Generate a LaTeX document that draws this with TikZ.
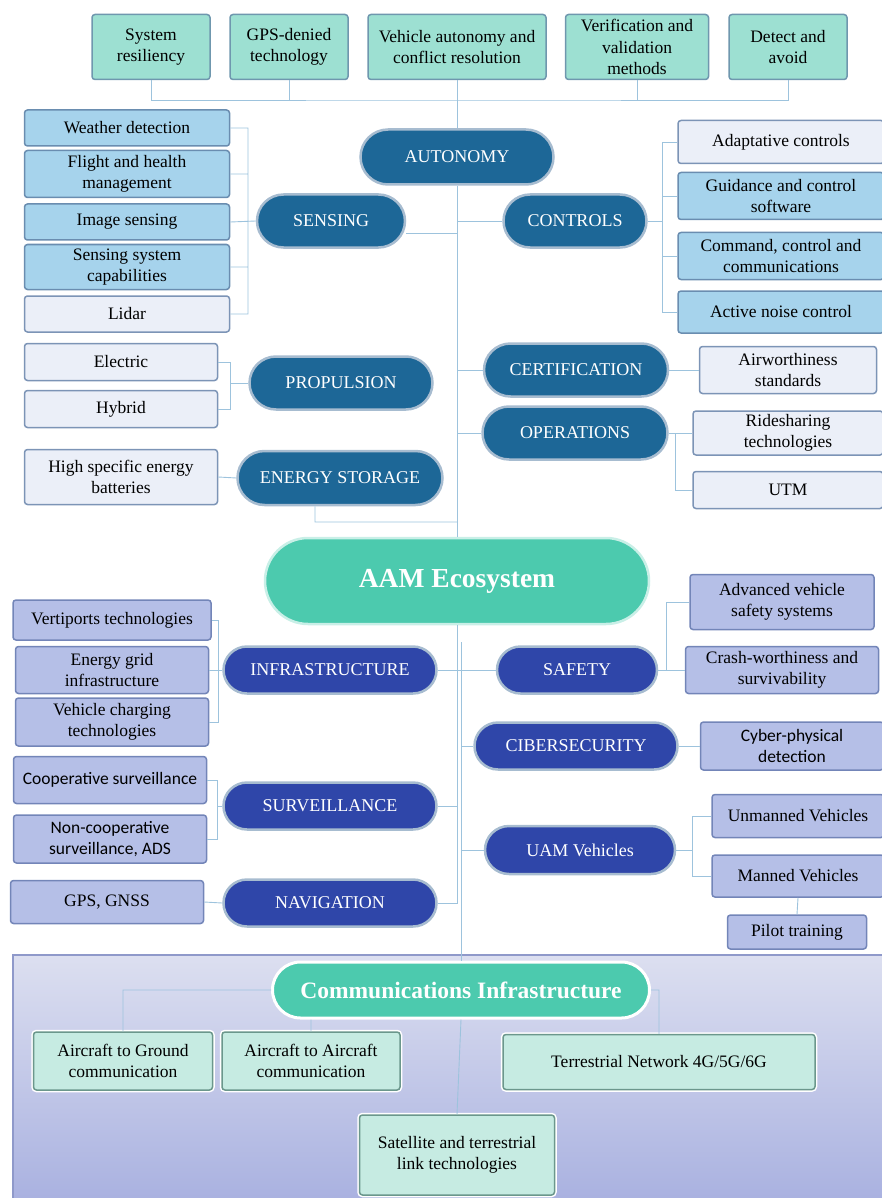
\documentclass[tikz,border=0pt]{standalone}
\usepackage{fontspec}
\setmainfont{Liberation Serif}
\newfontfamily\carlito{Carlito}
\usepackage{tikz}
\usepackage{xcolor}
\usetikzlibrary{shapes.misc, positioning, calc}
\definecolor{linkc}{HTML}{9DC3DD}
\definecolor{topc}{HTML}{9DE0D2}
\definecolor{topd}{HTML}{6F97AE}
\definecolor{sensc}{HTML}{A6D3EC}
\definecolor{sensd}{HTML}{6A8DB0}
\definecolor{palec}{HTML}{EBEFF8}
\definecolor{paled}{HTML}{7C94B6}
\definecolor{lavc}{HTML}{B5BFE7}
\definecolor{lavd}{HTML}{7385B8}
\definecolor{commc}{HTML}{C6EBE2}
\definecolor{commd}{HTML}{6B978C}
\definecolor{upc}{HTML}{1D6797}
\definecolor{lpc}{HTML}{2F46A9}
\definecolor{pillb}{HTML}{A7BCD0}
\definecolor{aamc}{HTML}{4CCAAE}
\definecolor{panelt}{HTML}{DCDFF0}
\definecolor{panelb}{HTML}{A9B1E0}
\definecolor{paneld}{HTML}{8F99CA}

\begin{document}
\begin{tikzpicture}[x=1pt,y=-1pt,
  link/.style={draw=linkc,line width=0.9},
  box/.style={rectangle,rounded corners=3,line width=1.5,align=center,inner sep=1,font=\rmfamily\fontsize{17.5}{21.5}\selectfont},
  topbox/.style={box,fill=topc,draw=topd},
  sensbox/.style={box,fill=sensc,draw=sensd},
  palebox/.style={box,fill=palec,draw=paled},
  lavbox/.style={box,fill=lavc,draw=lavd},
  commbox/.style={box,fill=commc,draw=commd,preaction={draw=white,line width=4.5}},
  pill/.style={rounded rectangle,line width=2.5,draw=pillb,text=white,inner sep=0,font=\rmfamily\fontsize{18}{21}\selectfont},
  upill/.style={pill,fill=upc},
  lpill/.style={pill,fill=lpc},
  sans/.style={font=\carlito\fontsize{17.5}{21.5}\selectfont}]
  \useasboundingbox (0,0) rectangle (881,1198);
  \shade[top color=panelt,bottom color=panelb] (13,955) rectangle (885,1202);
  \draw[paneld,line width=1.5] (13,1202) -- (13,955) -- (885,955);

  \node[topbox,minimum width=118,minimum height=65] (sr) at (151,47) {System\\resiliency};
  \node[topbox,minimum width=118,minimum height=65] (gd) at (289,47) {GPS-denied\\technology};
  \node[topbox,minimum width=178,minimum height=65] (va) at (457,47) {Vehicle autonomy and\\conflict resolution};
  \node[topbox,minimum width=143,minimum height=65] (vv) at (637,47) {Verification and\\validation\\methods};
  \node[topbox,minimum width=118,minimum height=65] (da) at (788,47) {Detect and\\avoid};

  \node[upill,minimum width=193,minimum height=55] (auto) at (457,157) {AUTONOMY};
  \node[upill,minimum width=148,minimum height=53] (sens) at (331,221) {SENSING};
  \node[upill,minimum width=143,minimum height=53] (ctrl) at (575,221) {CONTROLS};

  \node[sensbox,minimum width=205,minimum height=36] (wd) at (127,128) {Weather detection};
  \node[sensbox,minimum width=205,minimum height=47] (fh) at (127,174) {Flight and health\\management};
  \node[sensbox,minimum width=205,minimum height=36] (is) at (127,222) {Image sensing};
  \node[sensbox,minimum width=205,minimum height=45] (ss) at (127,267) {Sensing system\\capabilities};
  \node[palebox,minimum width=205,minimum height=36] (ld) at (127,314) {Lidar};

  \node[palebox,minimum width=206,minimum height=43] (ac) at (781,142) {Adaptative controls};
  \node[sensbox,minimum width=206,minimum height=47] (gc) at (781,196) {Guidance and control\\software};
  \node[sensbox,minimum width=206,minimum height=47] (cc) at (781,256) {Command, control and\\communications};
  \node[sensbox,minimum width=206,minimum height=42] (an) at (781,312) {Active noise control};

  \node[upill,minimum width=183,minimum height=53] (prop) at (341,383) {PROPULSION};
  \node[palebox,minimum width=193,minimum height=37] (el) at (121,362) {Electric};
  \node[palebox,minimum width=193,minimum height=37] (hy) at (121,409) {Hybrid};
  \node[upill,minimum width=205,minimum height=54] (es) at (340,478) {ENERGY STORAGE};
  \node[palebox,minimum width=193,minimum height=55] (hb) at (121,477) {High specific energy\\batteries};

  \node[upill,minimum width=184,minimum height=53] (cert) at (576,370) {CERTIFICATION};
  \node[palebox,minimum width=177,minimum height=47] (aw) at (788,370) {Airworthiness\\standards};
  \node[upill,minimum width=185,minimum height=53] (ops) at (575,433) {OPERATIONS};
  \node[palebox,minimum width=190,minimum height=44] (rs) at (788,433) {Ridesharing\\technologies};
  \node[palebox,minimum width=190,minimum height=37] (utm) at (788,490) {UTM};

  \node[pill,fill=aamc,draw=white!70!aamc,minimum width=384,minimum height=86,font=\bfseries\fontsize{27.5}{30}\selectfont] (aam) at (457,581) {AAM Ecosystem};

  \node[lpill,minimum width=213,minimum height=47] (infra) at (330,670) {INFRASTRUCTURE};
  \node[lavbox,minimum width=198,minimum height=40] (vt) at (112,620) {Vertiports technologies};
  \node[lavbox,minimum width=193,minimum height=47] (eg) at (112,670) {Energy grid\\infrastructure};
  \node[lavbox,minimum width=193,minimum height=48] (vc) at (112,722) {Vehicle charging\\technologies};
  \node[lpill,minimum width=213,minimum height=47] (surv) at (330,806) {SURVEILLANCE};
  \node[lavbox,sans,minimum width=193,minimum height=47] (cs) at (110,780) {Cooperative surveillance};
  \node[lavbox,sans,minimum width=193,minimum height=48] (nc) at (110,839) {Non-cooperative\\surveillance, ADS};
  \node[lpill,minimum width=213,minimum height=47] (nav) at (330,903) {NAVIGATION};
  \node[lavbox,minimum width=193,minimum height=43] (gps) at (107,902) {GPS, GNSS};

  \node[lpill,minimum width=160,minimum height=47] (safe) at (577,670) {SAFETY};
  \node[lavbox,minimum width=184,minimum height=55] (av) at (782,602) {Advanced vehicle\\safety systems};
  \node[lavbox,minimum width=193,minimum height=47] (cw) at (782,670) {Crash-worthiness and\\survivability};
  \node[lpill,minimum width=203,minimum height=47] (cyber) at (576,746) {CIBERSECURITY};
  \node[lavbox,sans,minimum width=183,minimum height=48] (cp) at (792,746) {Cyber-physical\\detection};
  \node[lpill,minimum width=190,minimum height=48] (uam) at (580,850) {UAM Vehicles};
  \node[lavbox,minimum width=172,minimum height=43] (uv) at (798,816) {Unmanned Vehicles};
  \node[lavbox,minimum width=172,minimum height=42] (mv) at (798,876) {Manned Vehicles};
  \node[lavbox,minimum width=139,minimum height=34] (pt) at (797,932) {Pilot training};

  \node[pill,fill=aamc,draw=white,line width=3,minimum width=377,minimum height=56,font=\bfseries\fontsize{23.5}{26}\selectfont] (ci) at (461,990) {Communications Infrastructure};
  \node[commbox,minimum width=179,minimum height=58] (ag) at (123,1061) {Aircraft to Ground\\communication};
  \node[commbox,minimum width=178,minimum height=58] (aa) at (311,1061) {Aircraft to Aircraft\\communication};
  \node[commbox,minimum width=312,minimum height=55] (tn) at (659,1062) {Terrestrial Network 4G/5G/6G};
  \node[commbox,minimum width=195,minimum height=80] (sl) at (457,1155) {Satellite and terrestrial\\link technologies};

  \coordinate (tb) at (457,100);
  \coordinate (sb) at (248,222);
  \coordinate (cb) at (662,221);
  \coordinate (pb) at (230,383);
  \coordinate (ej) at (457,522);
  \coordinate (ob) at (675,433);
  \coordinate (ib) at (218,670);
  \coordinate (svb) at (217,806);
  \coordinate (rtop) at (461,642);
  \coordinate (sfb) at (666,670);
  \coordinate (ub) at (692,850);

  \draw[link] (sr.south) |- (tb) -| (da.south) (gd.south) -- (gd.south |- tb) (vv.south) -- (vv.south |- tb);
  \draw[link] (va.south) -- (auto.north) (auto.south) -- (aam.north);
  \draw[link] ([yshift=-12pt]sens.east) -- ([yshift=-12pt]sens.east -| tb) (ctrl.west) -- (ctrl.west -| tb);
  \draw[link] (wd.east) -| (sb) (ld.east) -| (sb) (fh.east) -- (fh.east -| sb) (ss.east) -- (ss.east -| sb) (is.east) -- (sens.west);
  \draw[link] (ac.west) -| (cb) (an.west) -| (cb) (gc.west) -- (gc.west -| cb) (cc.west) -- (cc.west -| cb) (cb) -- (ctrl.east);
  \draw[link] (el.east) -| (pb) (hy.east) -| (pb) (pb) -- (prop.west);
  \draw[link] (hb.east) -- (es.west) ([xshift=-25pt]es.south) |- (ej);
  \draw[link] (cert.west) -- (cert.west -| tb) (cert.east) -- (aw.west);
  \draw[link] (ops.west) -- (ops.west -| tb) (ops.east) -- (rs.west) (ob) |- (utm.west);

  \draw[link] (aam.south) |- (nav.east) (surv.east) -- (surv.east -| aam.south) (infra.east) -- (safe.west);
  \draw[link] (vt.east) -| (ib) (vc.east) -| (ib) (eg.east) -- (infra.west);
  \draw[link] (cs.east) -| (svb) (nc.east) -| (svb) (svb) -- (surv.west);
  \draw[link] (gps.east) -- (nav.west);
  \draw[link] (rtop) -- (ci.north) (cyber.west) -- (cyber.west -| rtop) (uam.west) -- (uam.west -| rtop);
  \draw[link] (safe.east) -- (cw.west) (av.west) -| (sfb);
  \draw[link] (cyber.east) -- (cp.west);
  \draw[link] (uv.west) -| (ub) (mv.west) -| (ub) (ub) -- (uam.east);
  \draw[link] (mv.south) -- (pt.north);

  \draw[link] (ci.west) -| (ag.north) (ci.south -| aa.north) -- (aa.north) (ci.east) -| (tn.north) (ci.south) -- (sl.north);
\end{tikzpicture}
\end{document}
